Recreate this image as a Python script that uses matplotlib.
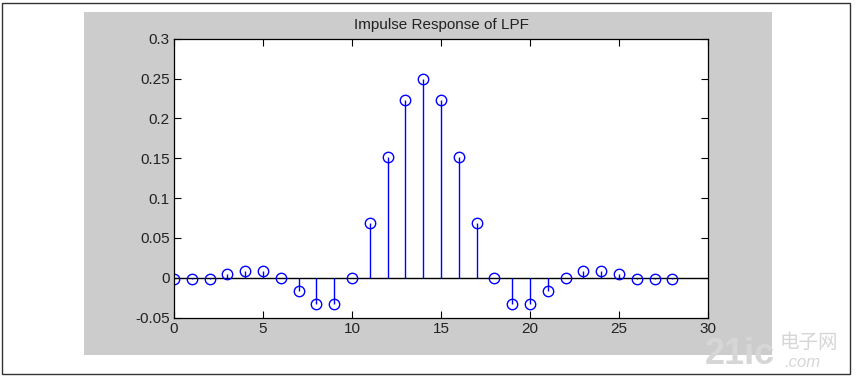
import matplotlib
matplotlib.use("Agg")
import matplotlib.pyplot as plt
from matplotlib.patches import Rectangle

# impulse response samples
n = list(range(29))
h = [-0.002, -0.002, -0.001, 0.005, 0.009, 0.009, 0.0, -0.017, -0.033, -0.033,
     0.0, 0.069, 0.152, 0.223, 0.250, 0.223, 0.152, 0.069, 0.0, -0.033,
     -0.033, -0.017, 0.0, 0.009, 0.009, 0.005, -0.001, -0.002, -0.002]

xticks = [0, 5, 10, 15, 20, 25, 30]
yticks = [-0.05, 0, 0.05, 0.1, 0.15, 0.2, 0.25, 0.3]
ytick_labels = ["-0.05", "0", "0.05", "0.1", "0.15", "0.2", "0.25", "0.3"]

W, H = 858, 379
fig = plt.figure(figsize=(W / 100, H / 100), dpi=100)
fig.patch.set_facecolor("white")

def fx(px):
    return px / W

def fy(py):
    return 1 - py / H

# outer frame and MATLAB grey figure area (behind the axes)
fig.patches.append(Rectangle((fx(2), fy(374)), fx(848), (374 - 2.5) / H,
                             transform=fig.transFigure, fill=False,
                             edgecolor="#333333", linewidth=1.0, zorder=-10))
fig.patches.append(Rectangle((fx(84), fy(355)), fx(688), 343 / H,
                             transform=fig.transFigure, facecolor="#cccccc",
                             edgecolor="none", zorder=-9))

ax = fig.add_axes([fx(174), fy(317.7), fx(534), 279 / H])
ax.set_facecolor("white")

markerline, stemlines, baseline = ax.stem(n, h, basefmt="k-")
plt.setp(stemlines, color="blue", linewidth=1.0)
plt.setp(markerline, color="blue", marker="o", markersize=7.5,
         markerfacecolor="none", markeredgewidth=1.0)
baseline.set_visible(False)
ax.axhline(0, color="black", linewidth=1.0, zorder=1)

ax.set_xlim(0, 30)
ax.set_ylim(-0.05, 0.3)
ax.set_xticks(xticks)
ax.set_xticklabels([str(t) for t in xticks])
ax.set_yticks(yticks)
ax.set_yticklabels(ytick_labels)
ax.tick_params(direction="in", length=5, width=0.8, top=True, right=True,
               labelsize=11, colors="black", pad=3)
for lab in ax.get_xticklabels() + ax.get_yticklabels():
    lab.set_fontfamily("Liberation Sans")
    lab.set_color("#222222")
for sp in ax.spines.values():
    sp.set_linewidth(0.9)
    sp.set_color("black")

ax.set_title("Impulse Response of LPF", fontsize=11, family="Liberation Sans",
             color="#222222", pad=7)

# watermark
wm = "#d6d6d6"
fig.text(fx(705), fy(372), "21ic", fontsize=26, fontweight="bold",
         family="Liberation Sans", color=wm, ha="left", va="bottom")
fig.text(fx(780), fy(353), "电子网", fontsize=14,
         family=["Noto Sans CJK SC", "DejaVu Sans"], color=wm,
         ha="left", va="bottom")
fig.text(fx(784), fy(355), ".com", fontsize=12, style="italic",
         family="Liberation Sans", color=wm, ha="left", va="top")

fig.savefig("out.png", dpi=100)
